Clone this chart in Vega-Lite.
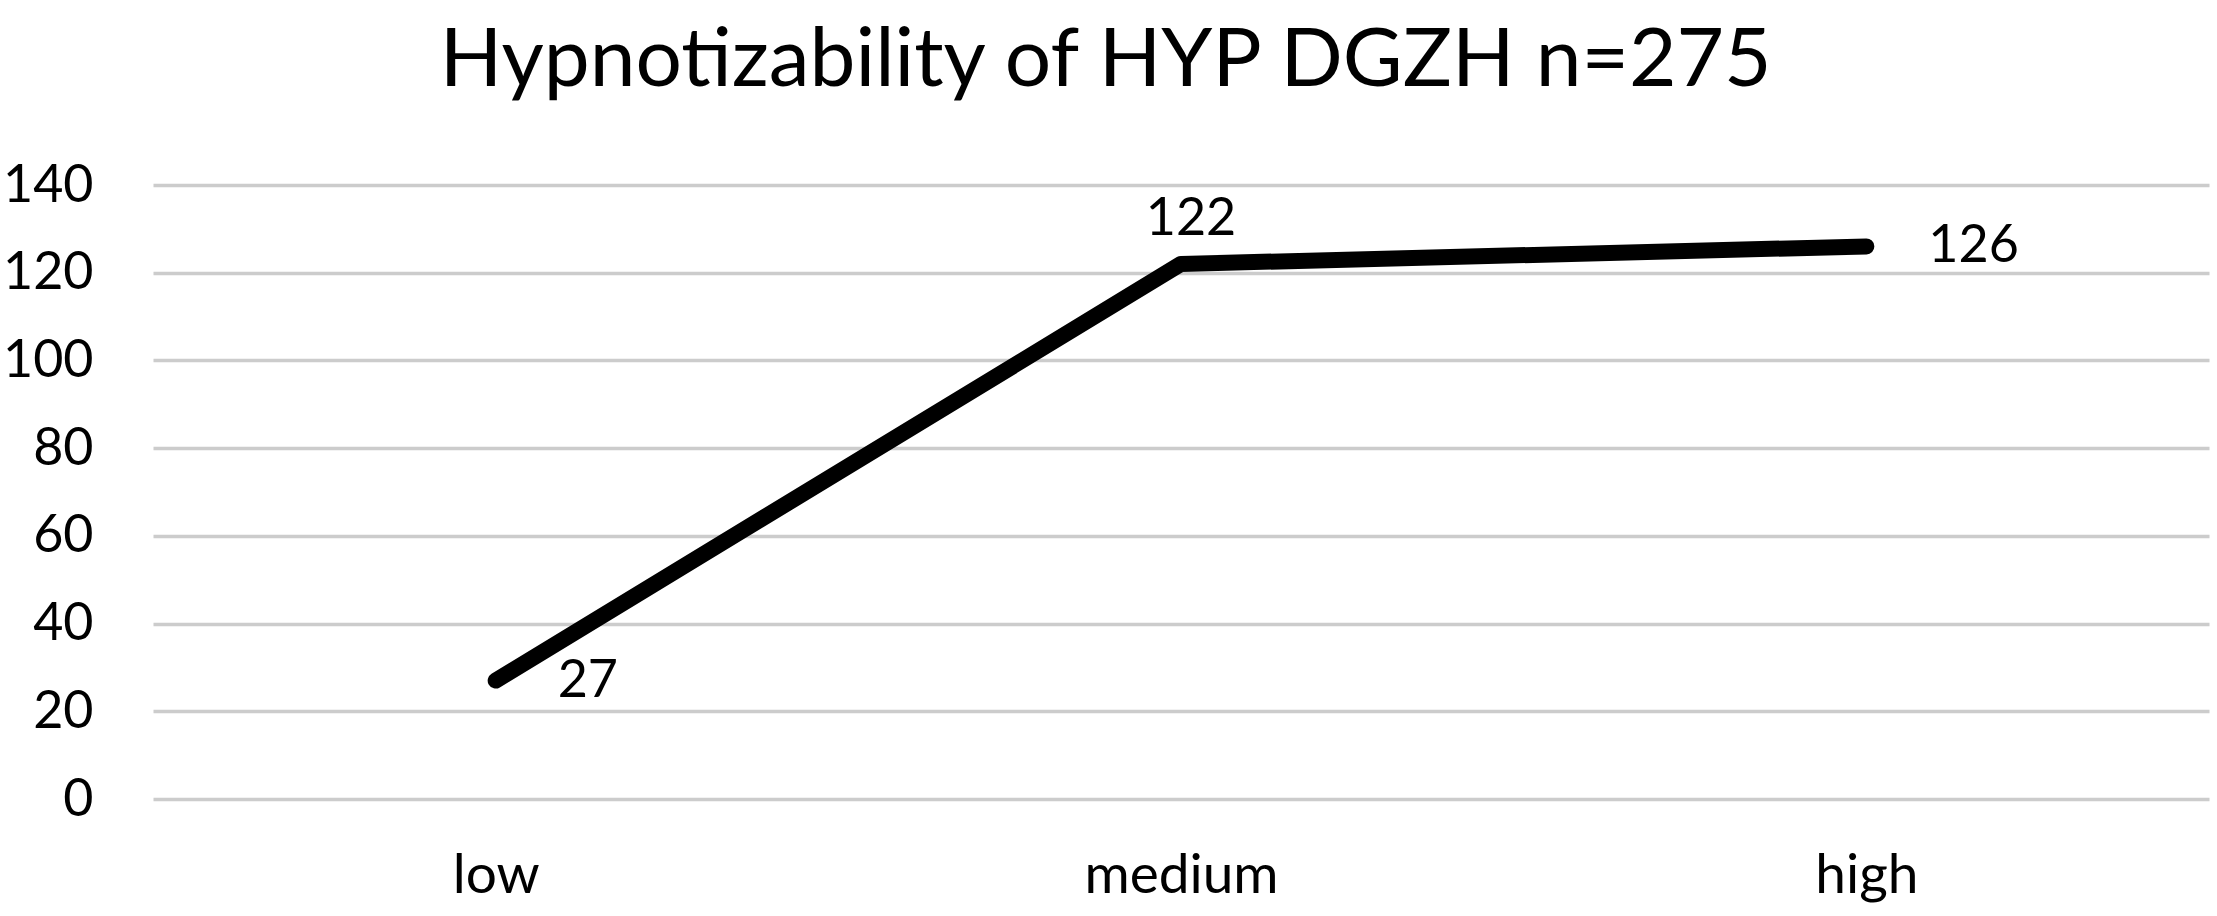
{
  "$schema": "https://vega.github.io/schema/vega-lite/v6.json",
  "width": 2056,
  "height": 614,
  "autosize": {"type": "none"},
  "padding": {"left": 153, "top": 185, "right": 8, "bottom": 117},
  "background": "white",
  "title": {
    "text": "Hypnotizability of HYP DGZH n=275",
    "font": "Lato",
    "fontSize": 82,
    "fontWeight": "normal",
    "color": "black",
    "frame": "bounds",
    "anchor": "middle",
    "offset": 56
  },
  "data": {
    "values": [
      {"level": "low", "count": 27},
      {"level": "medium", "count": 122},
      {"level": "high", "count": 126}
    ]
  },
  "encoding": {
    "x": {
      "field": "level",
      "type": "nominal",
      "sort": ["low", "medium", "high"],
      "scale": {"type": "point", "padding": 0.5},
      "axis": {
        "title": null,
        "labelAngle": 0,
        "labelFont": "Lato",
        "labelFontSize": 55,
        "labelColor": "black",
        "labelPadding": 50,
        "labelLimit": 0,
        "ticks": false,
        "domain": false,
        "grid": false
      }
    },
    "y": {
      "field": "count",
      "type": "quantitative",
      "scale": {"domain": [0, 140], "nice": false, "zero": true},
      "axis": {
        "title": null,
        "values": [0, 20, 40, 60, 80, 100, 120, 140],
        "labelFont": "Lato",
        "labelFontSize": 52,
        "labelColor": "black",
        "labelPadding": 60,
        "ticks": false,
        "domain": false,
        "grid": true,
        "gridColor": "#cccccc",
        "gridWidth": 3.5
      }
    }
  },
  "layer": [
    {
      "mark": {"type": "line", "color": "black", "strokeWidth": 16, "strokeCap": "round", "strokeJoin": "round"}
    },
    {
      "transform": [{"filter": "datum.level !== 'medium'"}],
      "mark": {"type": "text", "font": "Lato", "fontSize": 52, "color": "black", "align": "left", "baseline": "middle", "dx": 62},
      "encoding": {"text": {"field": "count", "type": "quantitative"}}
    },
    {
      "transform": [{"filter": "datum.level === 'medium'"}],
      "mark": {"type": "text", "font": "Lato", "fontSize": 52, "color": "black", "align": "center", "baseline": "middle", "dx": 10, "dy": -45},
      "encoding": {"text": {"field": "count", "type": "quantitative"}}
    }
  ],
  "config": {"view": {"stroke": null}}
}
